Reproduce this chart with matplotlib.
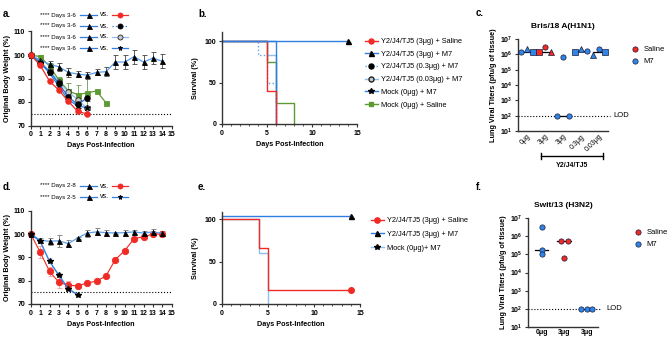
import matplotlib
matplotlib.use('Agg')
import matplotlib.pyplot as plt
from matplotlib.lines import Line2D
from matplotlib.ticker import MultipleLocator, FixedLocator, FuncFormatter, NullLocator
import matplotlib.transforms as mtrans
import math

plt.rcParams['font.family'] = ['Liberation Sans', 'DejaVu Sans']
plt.rcParams['mathtext.fontset'] = 'custom'
plt.rcParams['mathtext.rm'] = 'Liberation Sans'
plt.rcParams['mathtext.bf'] = 'Liberation Sans:bold'

# ------------------------------------------------------------------ data
# Panel a: body weight (%), H1N1
days_a = list(range(15))
a_m7_3 = [100, 97.9, 96.0, 95.0, 92.6, 91.9, 91.4, 92.6, 92.9, 97.0, 97.0, 99.3, 97.0, 98.7, 97.3]
a_m7_3_err = [0, 1.0, 1.5, 1.8, 1.8, 1.3, 1.5, 1.3, 2.0, 3.0, 3.0, 3.0, 3.0, 2.5, 3.0]
a_sal_3 = [100, 95.7, 88.9, 85.0, 80.3, 76.0, 74.9]
a_sal_3_err = [0, 0.6, 0.6, 0.6, 0.6, 0.6, 0.5]
a_m7_03 = [100, 96.7, 92.9, 87.9, 82.1, 79.0, 81.7]
a_m7_03_err = [0, 0.8, 1.0, 1.0, 1.5, 1.5, 1.2]
a_m7_003 = [100, 97.2, 93.3, 88.6, 84.3, 81.0, 77.4]
a_m7_003_err = [0, 0.8, 1.0, 1.0, 1.2, 1.2, 1.0]
a_mock_m7 = [100, 96.8, 92.3, 86.6, 81.0, 78.3, 77.6]
a_mock_m7_err = [0, 0.6, 0.8, 0.8, 0.8, 0.8, 0.8]
a_mock_sal = [100, 99.3, 95.3, 89.3, 84.7, 83.1, 83.9, 84.7, 79.7]
a_mock_sal_err = [0, 0.5, 1.5, 1.5, 3.2, 4.3, 7.0, 0, 0]

# Panel b: survival (%), H1N1
b_sal_3_t, b_sal_3_s = [0, 5, 6], [100, 40, 0]
b_m7_3_t, b_m7_3_s = [0, 14], [100, 100]
b_m7_03_t, b_m7_03_s = [0, 4, 5, 6], [100, 83.3, 50, 0]
b_m7_003_t, b_m7_003_s = [0, 5, 6], [100, 83.3, 0]
b_mock_m7_t, b_mock_m7_s = [0, 6], [100, 0]
b_mock_sal_t, b_mock_sal_s = [0, 5, 6, 8], [100, 75, 25, 0]

# Panel c: lung viral titers, Bris/18 A(H1N1)
c_categories = ['0μg', '3μg', '3μg', '0.3μg', '0.03μg']
c_groups = ['M7', 'Saline', 'M7', 'M7', 'M7']
c_values = [[1.5e6, 2.1e6, 1.35e6],
            [1.35e6, 3.2e6, 1.5e6],
            [100, 7e5, 100],
            [1.35e6, 2.1e6, 1.65e6],
            [9e5, 2.2e6, 1.35e6]]
c_markers = [['o', '^', 's'], ['s', 'o', '^'], ['o', 'o', 'o'], ['s', '^', 'o'], ['^', 'o', 's']]
c_medians = [1.5e6, 1.5e6, 100, 1.65e6, 1.35e6]
LOD = 100

# Panel d: body weight (%), H3N2
days_d = list(range(15))
d_m7_3 = [100, 97.3, 96.9, 97.1, 95.9, 98.3, 100.4, 100.9, 100.6, 100.4, 100.6, 100.9, 100.4, 100.9, 100.3]
d_m7_3_err = [0, 1.0, 1.5, 2.5, 1.5, 0.5, 1.5, 1.5, 1.3, 0.5, 1.3, 1.0, 0.8, 1.2, 0.8]
d_sal_3 = [100, 92.3, 84.0, 79.3, 78.0, 77.8, 79.0, 79.8, 82.0, 89.0, 92.9, 98.0, 98.8, 100, 100]
d_sal_3_err = [0, 2.5, 2.0, 2.5, 2.0, 0.5, 0.5, 0.5, 0.5, 0.5, 0.5, 0.5, 0.5, 0.5, 0.5]
d_mock_m7 = [100, 96.9, 88.3, 82.3, 76.6, 73.9]

# Panel e: survival (%), H3N2
e_sal_3_t, e_sal_3_s = [0, 4, 5, 14], [100, 66.7, 16.7, 16.7]
e_m7_3_t, e_m7_3_s = [0, 14], [100, 100]
e_mock_m7_t, e_mock_m7_s = [0, 4, 5], [100, 60, 0]

# Panel f: lung viral titers, Swit/13 (H3N2)
f_categories = ['0μg', '3μg', '3μg']
f_groups = ['M7', 'Saline', 'M7']
f_values = [[3.3e6, 1.7e5, 1.0e5],
            [5.2e5, 6.5e4, 5.2e5],
            [100, 100, 100]]
f_medians = [1.7e5, 5.2e5, 100]

# ------------------------------------------------------------------ style
RED = '#f02a24'
BLUE = '#2f7fe0'
LBLUE = '#8cc0f0'
GREEN = '#5e9a34'
PINK = '#f49a9a'
DOTBLUE = '#5aa6f0'
MBLUE = '#2f86e8'
AX = '#333333'

W, H = 669, 345
fig = plt.figure(figsize=(W / 100, H / 100), dpi=100)


def rect(l, t, r, b):
    return [l / W, 1 - b / H, (r - l) / W, (b - t) / H]


def fx(x):
    return x / W


def fy(y):
    return 1 - y / H


def style(ax, bold=True):
    for s in ['top', 'right']:
        ax.spines[s].set_visible(False)
    for s in ['left', 'bottom']:
        ax.spines[s].set_linewidth(1.0)
        ax.spines[s].set_color(AX)
    ax.tick_params(which='major', width=0.8, length=2.5, labelsize=5, color=AX, pad=1.5)
    ax.tick_params(which='minor', width=0.6, length=1.5, color=AX)
    if bold:
        for lbl in ax.get_xticklabels() + ax.get_yticklabels():
            lbl.set_fontweight('bold')


LBL = dict(fontsize=5.2, fontweight='bold')


def ebplot(ax, x, y, err, color, marker, mfc, mec, ecolor, ms=3.6, ls='-', lw=0.9, z=3):
    ax.errorbar(x, y, yerr=err, color=color, ls=ls, lw=lw, marker=marker, ms=ms,
                mfc=mfc, mec=mec, mew=0.6, ecolor=ecolor, elinewidth=0.6, capsize=1.8,
                capthick=0.6, zorder=z, clip_on=False)


def key_row(y, text, h1, h2):
    fig.text(fx(40), fy(y), text, fontsize=4.4, va='center', ha='left')
    for (x0, x1, xm), h in zip([(80, 97, 88.5), (112, 128, 120)], [h1, h2]):
        color, ls, marker, mfc, mec = h
        fig.add_artist(Line2D([fx(x0), fx(x1)], [fy(y), fy(y)], color=color, ls=ls, lw=0.9,
                              transform=fig.transFigure))
        fig.add_artist(Line2D([fx(xm)], [fy(y)], marker=marker, ms=3.6, mfc=mfc, mec=mec,
                              mew=0.6, ls='none', transform=fig.transFigure))
    fig.text(fx(99.5), fy(y), 'vs.', fontsize=5, va='center', ha='left')


TRI = (BLUE, '-', '^', 'k', 'k')

# ------------------------------------------------------------------ panel a
ax = fig.add_axes(rect(30.7, 31.5, 171.7, 125.5))
ax.set_xlim(0, 15)
ax.set_ylim(70, 110)
ax.axhline(75, color='k', ls=':', lw=0.8, zorder=1)
ebplot(ax, days_a[:len(a_mock_sal)], a_mock_sal, a_mock_sal_err, GREEN, 's', GREEN, GREEN, '#6a9a4a')
ebplot(ax, days_a, a_m7_3, a_m7_3_err, '#5aa0ee', '^', 'k', 'k', '#444444')
ebplot(ax, days_a[:7], a_m7_003, a_m7_003_err, LBLUE, 'o', '#c8c8c8', '#222222', '#444444', ms=4)
ebplot(ax, days_a[:7], a_mock_m7, a_mock_m7_err, BLUE, '*', 'k', 'k', '#444444', ms=4.2)
ebplot(ax, days_a[:7], a_m7_03, a_m7_03_err, '#1f6fd0', 'o', 'k', 'k', '#444444', ms=4)
ebplot(ax, days_a[:7], a_sal_3, a_sal_3_err, RED, 'o', RED, RED, PINK, ms=4)
ax.xaxis.set_major_locator(MultipleLocator(1))
ax.yaxis.set_major_locator(MultipleLocator(10))
style(ax)
ax.set_xlabel('Days Post-Infection', labelpad=3, **LBL)
ax.set_ylabel('Original Body Weight (%)', labelpad=2, **LBL)

key_row(15, '**** Days 3-6', TRI, (RED, '-', 'o', RED, RED))
key_row(26, '**** Days 3-6', TRI, (BLUE, ':', 'o', 'k', 'k'))
key_row(37, '**** Days 3-6', TRI, (LBLUE, '-', 'o', '#c8c8c8', '#222222'))
key_row(48.3, '**** Days 3-6', TRI, (BLUE, '-', '*', 'k', 'k'))
fig.text(fx(3), fy(14), 'a.', fontsize=7, fontweight='bold', va='center')

# ------------------------------------------------------------------ panel b
ax = fig.add_axes(rect(222, 32, 357, 124))
ax.set_xlim(0, 15)
ax.set_ylim(0, 111)
ax.step(b_mock_sal_t, b_mock_sal_s, where='post', color=GREEN, lw=1.0, clip_on=False)
ax.step(b_m7_003_t, b_m7_003_s, where='post', color=LBLUE, lw=1.0, clip_on=False)
ax.step(b_m7_03_t, b_m7_03_s, where='post', color=DOTBLUE, lw=1.0, ls=':', clip_on=False)
ax.step(b_mock_m7_t, b_mock_m7_s, where='post', color=BLUE, lw=1.0, clip_on=False)
ax.step(b_sal_3_t, b_sal_3_s, where='post', color=RED, lw=1.0, clip_on=False)
ax.step(b_m7_3_t, b_m7_3_s, where='post', color=BLUE, lw=1.0, clip_on=False)
ax.plot(b_m7_3_t[-1:], b_m7_3_s[-1:], '^', color='k', ms=3.6, clip_on=False)
ax.xaxis.set_major_locator(FixedLocator([0, 5, 10, 15]))
ax.xaxis.set_minor_locator(MultipleLocator(1))
ax.yaxis.set_major_locator(FixedLocator([0, 50, 100]))
style(ax)
ax.set_xlabel('Days Post-Infection', labelpad=3, **LBL)
ax.set_ylabel('Survival (%)', labelpad=4, **LBL)
b_handles = [
    Line2D([], [], color=RED, lw=1, marker='o', ms=3.6, mfc=RED, mec=RED),
    Line2D([], [], color=BLUE, lw=1, marker='^', ms=3.6, mfc='k', mec='k'),
    Line2D([], [], color=DOTBLUE, lw=1, ls=':', marker='o', ms=3.6, mfc='k', mec='k'),
    Line2D([], [], color=LBLUE, lw=1, marker='o', ms=3.6, mfc='#c8c8c8', mec='#222222'),
    Line2D([], [], color=BLUE, lw=1, marker='*', ms=4, mfc='k', mec='k'),
    Line2D([], [], color=GREEN, lw=1, marker='s', ms=3.4, mfc=GREEN, mec=GREEN),
]
b_labels = ['Y2/J4/TJ5 (3μg) + Saline', 'Y2/J4/TJ5 (3μg) + M7', 'Y2/J4/TJ5 (0.3μg) + M7',
            'Y2/J4/TJ5 (0.03μg) + M7', 'Mock (0μg) + M7', 'Mock (0μg) + Saline']
fig.legend(b_handles, b_labels, loc='upper left', bbox_to_anchor=(fx(365), fy(38)),
           frameon=False, fontsize=5.3, handlelength=1.7, handletextpad=0.5,
           labelspacing=0.75, borderaxespad=0, borderpad=0)
fig.text(fx(198), fy(14), 'b.', fontsize=7, fontweight='bold', va='center')


# ------------------------------------------------------------------ titer panels
def exp_fmt(v, pos):
    return r'$\mathbf{10^{%d}}$' % round(math.log10(v))


def titer_axes(r, xlim, cats, groups, values, medians, offsets, markers, title, lod_x1, lod_tx,
               rot, half, tpad):
    ax = fig.add_axes(rect(*r))
    ax.set_yscale('log')
    ax.set_ylim(10, 1e7)
    ax.set_xlim(*xlim)
    ax.plot([xlim[0], lod_x1], [LOD, LOD], color='k', ls=':', lw=0.8, clip_on=False, zorder=1)
    ax.text(lod_tx, LOD, 'LOD', fontsize=5.5, va='center', ha='left')
    for i, (vals, grp, med) in enumerate(zip(values, groups, medians)):
        col = RED if grp == 'Saline' else MBLUE
        for j, v in enumerate(vals):
            ax.plot(i + offsets[i][j], v, marker=markers[i][j], ms=3.8, mfc=col, mec='#1a1a3a',
                    mew=0.5, ls='none', zorder=4, clip_on=False)
        ax.plot([i - half, i + half], [med, med], color='k', lw=0.9, zorder=3)
    ax.yaxis.set_major_locator(FixedLocator([10 ** k for k in range(1, 8)]))
    ax.yaxis.set_minor_locator(NullLocator())
    ax.yaxis.set_major_formatter(FuncFormatter(exp_fmt))
    ax.set_xticks(range(len(cats)))
    if rot:
        ax.set_xticklabels(cats, rotation=45, ha='right', rotation_mode='anchor')
    else:
        ax.set_xticklabels(cats)
    style(ax)
    ax.tick_params(axis='x', length=0)
    ax.set_ylabel('Lung Viral Titers (pfu/g of tissue)', labelpad=2, **LBL)
    ax.set_title(title, fontsize=6, fontweight='bold', pad=tpad)
    return ax


c_offsets = [[-0.35, 0, 0.35]] * 5
ax = titer_axes((518, 39, 608, 131), (-0.5, 4.5), c_categories, c_groups, c_values, c_medians,
                c_offsets, c_markers, 'Bris/18 A(H1N1)', 4.6, 4.78, True, 0.33, 8)
for lbl in ax.get_xticklabels():
    lbl.set_fontweight('normal')
tr = mtrans.blended_transform_factory(ax.transData, ax.transAxes)
ax.plot([0.8, 4.2], [-0.27, -0.27], color='k', lw=1.0, transform=tr, clip_on=False)
for xe in (0.8, 4.2):
    ax.plot([xe, xe], [-0.24, -0.30], color='k', lw=1.0, transform=tr, clip_on=False)
ax.text(2.5, -0.37, 'Y2/J4/TJ5', transform=tr, fontsize=5, fontweight='bold', ha='center',
        va='center')
fig.legend([Line2D([], [], marker='o', ms=3.8, mfc=RED, mec='#1a1a3a', mew=0.5, ls='none'),
            Line2D([], [], marker='o', ms=3.8, mfc=MBLUE, mec='#1a1a3a', mew=0.5, ls='none')],
           ['Saline', 'M7'], loc='upper left', bbox_to_anchor=(fx(631), fy(46)), frameon=False,
           fontsize=5.5, handlelength=1.0, handletextpad=0.6, labelspacing=0.6,
           borderaxespad=0, borderpad=0)
fig.text(fx(476), fy(13), 'c.', fontsize=7, fontweight='bold', va='center')

f_offsets = [[0, 0, 0], [-0.15, 0, 0.15], [-0.25, 0, 0.25]]
f_markers = [['o'] * 3] * 3
ax = titer_axes((528, 218, 598, 327), (-0.6, 2.5), f_categories, f_groups, f_values, f_medians,
                f_offsets, f_markers, 'Swit/13 (H3N2)', 2.65, 2.85, False, 0.3, 8)
fig.legend([Line2D([], [], marker='o', ms=3.8, mfc=RED, mec='#1a1a3a', mew=0.5, ls='none'),
            Line2D([], [], marker='o', ms=3.8, mfc=MBLUE, mec='#1a1a3a', mew=0.5, ls='none')],
           ['Saline', 'M7'], loc='upper left', bbox_to_anchor=(fx(634), fy(229)), frameon=False,
           fontsize=5.5, handlelength=1.0, handletextpad=0.6, labelspacing=0.6,
           borderaxespad=0, borderpad=0)
fig.text(fx(476), fy(187), 'f.', fontsize=7, fontweight='bold', va='center')

# ------------------------------------------------------------------ panel d
ax = fig.add_axes(rect(30.7, 210.7, 171.7, 304))
ax.set_xlim(0, 15)
ax.set_ylim(70, 110)
ax.axhline(75, color='k', ls=':', lw=0.8, zorder=1)
ebplot(ax, days_d, d_sal_3, d_sal_3_err, RED, 'o', RED, RED, PINK, ms=4.6, lw=0.8)
ebplot(ax, days_d, d_m7_3, d_m7_3_err, '#5aa0ee', '^', 'k', 'k', '#777777')
ax.plot(days_d[:len(d_mock_m7)], d_mock_m7, color=BLUE, lw=1.0, marker='*', ms=4.4, mfc='k',
        mec='k', zorder=4, clip_on=False)
ax.xaxis.set_major_locator(MultipleLocator(1))
ax.yaxis.set_major_locator(MultipleLocator(10))
style(ax)
ax.set_xlabel('Days Post-Infection', labelpad=3, **LBL)
ax.set_ylabel('Original Body Weight (%)', labelpad=2, **LBL)
key_row(186, '**** Days 2-8', TRI, (RED, '-', 'o', RED, RED))
key_row(197, '**** Days 2-5', TRI, (BLUE, '-', '*', 'k', 'k'))
fig.text(fx(3), fy(187), 'd.', fontsize=7, fontweight='bold', va='center')

# ------------------------------------------------------------------ panel e
ax = fig.add_axes(rect(222, 211.7, 360, 304))
ax.set_xlim(0, 15)
ax.set_ylim(0, 109)
ax.step(e_mock_m7_t, e_mock_m7_s, where='post', color=LBLUE, lw=1.0, clip_on=False)
ax.step(e_sal_3_t, e_sal_3_s, where='post', color=RED, lw=1.0, clip_on=False)
e_off = 4  # display offset so overlapping 100% curves stay visible
ax.step(e_m7_3_t, [s + e_off for s in e_m7_3_s], where='post', color=BLUE, lw=1.0, clip_on=False)
ax.plot(e_m7_3_t[-1:], [e_m7_3_s[-1] + e_off], '^', color='k', ms=3.6, clip_on=False)
ax.plot(e_sal_3_t[-1:], e_sal_3_s[-1:], 'o', color=RED, ms=4, clip_on=False)
ax.xaxis.set_major_locator(FixedLocator([0, 5, 10, 15]))
ax.xaxis.set_minor_locator(MultipleLocator(1))
ax.yaxis.set_major_locator(FixedLocator([0, 50, 100]))
style(ax)
ax.set_xlabel('Days Post-Infection', labelpad=3, **LBL)
ax.set_ylabel('Survival (%)', labelpad=4, **LBL)
e_handles = [
    Line2D([], [], color=RED, lw=1, marker='o', ms=3.8, mfc=RED, mec=RED),
    Line2D([], [], color=BLUE, lw=1, marker='^', ms=3.6, mfc='k', mec='k'),
    Line2D([], [], color=LBLUE, lw=1, marker='*', ms=4, mfc='k', mec='k'),
]
e_labels = ['Y2/J4/TJ5 (3μg) + Saline', 'Y2/J4/TJ5 (3μg) + M7', 'Mock (0μg)+ M7']
fig.legend(e_handles, e_labels, loc='upper left', bbox_to_anchor=(fx(371), fy(217)),
           frameon=False, fontsize=5.3, handlelength=1.7, handletextpad=0.5,
           labelspacing=0.9, borderaxespad=0, borderpad=0)
fig.text(fx(198), fy(187), 'e.', fontsize=7, fontweight='bold', va='center')

fig.savefig('out.png', dpi=100)
